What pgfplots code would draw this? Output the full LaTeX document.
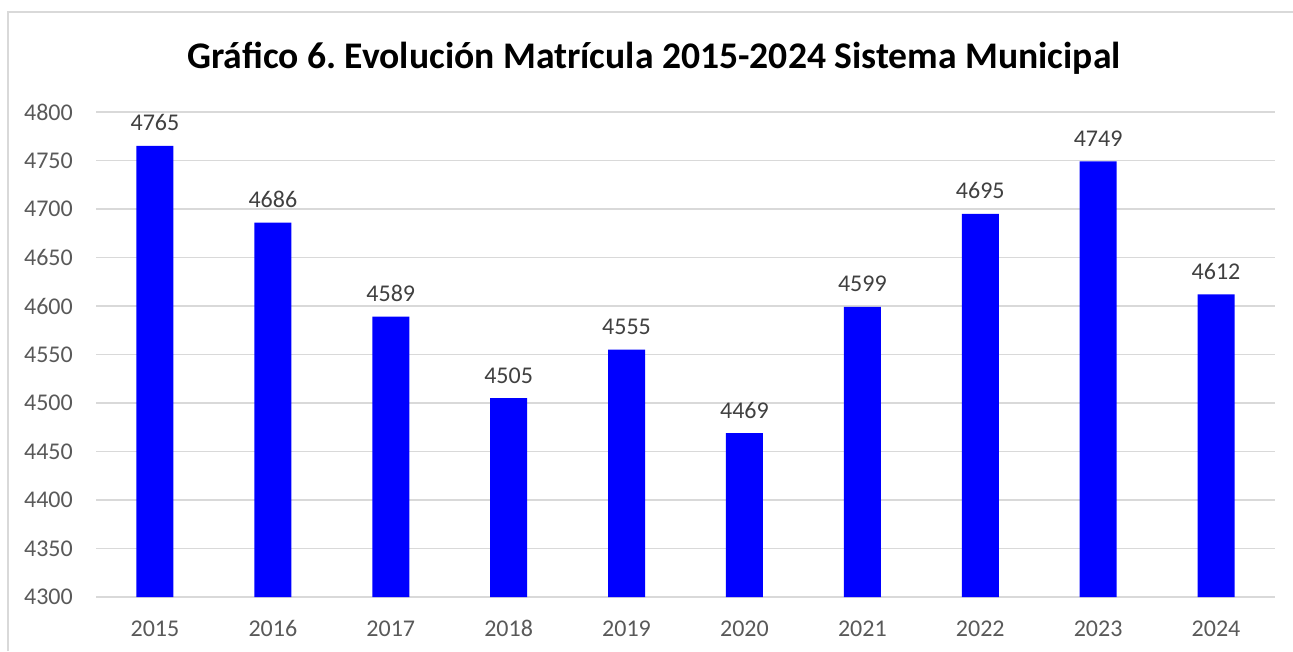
\documentclass[border=0pt]{standalone}
\usepackage{fontspec}
\setmainfont{Carlito}
\usepackage{pgfplots}
\pgfplotsset{compat=1.18}
\definecolor{gridc}{HTML}{D9D9D9}
\definecolor{tickc}{HTML}{595959}
\definecolor{labelc}{HTML}{404040}
\definecolor{barc}{HTML}{0000FF}
\frenchspacing
\begin{document}
\begin{tikzpicture}[x=1pt,y=1pt]
\path[use as bounding box] (0,0) rectangle (1293,651);
\draw[gridc, line width=1.5pt] (8,0) -- (8,639) -- (1293,639);
\begin{axis}[
  at={(96pt,54pt)}, anchor=south west,
  scale only axis, width=1179pt, height=485pt,
  xmin=2014.5, xmax=2024.5, ymin=4300, ymax=4800,
  xtick={2015,2016,...,2024},
  ytick={4300,4350,...,4800},
  /pgf/number format/.cd, 1000 sep={}, assume math mode=true, /pgfplots/.cd,
  axis line style={draw=none},
  major tick length=0pt,
  ymajorgrids, grid style={gridc, line width=1.5pt},
  tick label style={font=\fontsize{24}{24}\selectfont, text=tickc},
  xticklabel style={anchor=base, inner sep=0pt, yshift=-39pt},
  yticklabel style={anchor=east, inner sep=0pt, xshift=-23pt},
  ybar, bar width=37pt,
  nodes near coords,
  nodes near coords style={font=\fontsize{24}{24}\selectfont, text=labelc, inner sep=0pt, anchor=base, yshift=15pt},
  clip=false,
]
\addplot[fill=barc, draw=none] coordinates {
(2015,4765) (2016,4686) (2017,4589) (2018,4505) (2019,4555)
(2020,4469) (2021,4599) (2022,4695) (2023,4749) (2024,4612)};
\end{axis}
\node[font=\bfseries\fontsize{37.6}{37.6}\selectfont, text=black, anchor=center] at (654,593) {Gráfico 6. Evolución Matrícula 2015-2024 Sistema Municipal};
\end{tikzpicture}
\end{document}
